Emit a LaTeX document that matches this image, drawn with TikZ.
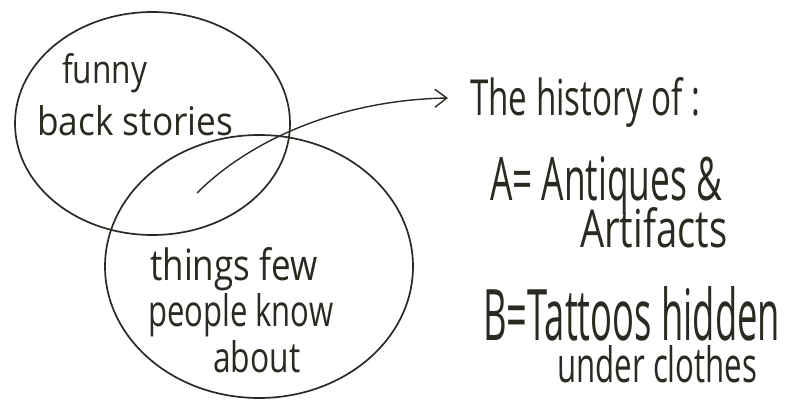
\documentclass[tikz,border=0pt]{standalone}
\usepackage{fontspec}
\setmainfont{Open Sans}
\usetikzlibrary{shapes.geometric,arrows.meta}
\definecolor{ink}{HTML}{2B2A22}
\newcommand\fitw[3]{\resizebox{#1pt}{#2pt}{#3}}
\begin{document}
\begin{tikzpicture}[x=1pt,y=-1pt,
  set/.style={draw=ink,line width=1.7pt,ellipse,inner sep=0pt},
  hand/.style={anchor=base west,inner sep=0pt,text=ink},
  conn/.style={draw=ink,line width=1.4pt,-{Straight Barb[length=12pt,width=18pt,line width=1.4pt]}}]
\useasboundingbox[fill=white] (0,0) rectangle (789,404);
\node[set,minimum width=275pt,minimum height=223pt] (top) at (152.5,123.5) {};
\node[set,minimum width=308pt,minimum height=263pt] (bottom) at (259,266.5) {};
% left labels
\node[hand] (funny) at (62,83) {\fitw{85}{30}{funny}};
\node[hand] (back) at (37,135) {\fitw{196}{30}{back stories}};
\node[hand] (things) at (150,280) {\fitw{167}{33}{things few}};
\node[hand] (people) at (148,326) {\fitw{185}{33}{people know}};
\node[hand] (about) at (213,372) {\fitw{87}{32}{about}};
% right labels
\node[hand] (history) at (470,115) {\fitw{230}{38}{The history of :}};
\node[hand] (A) at (490,200) {\fitw{232}{44}{A= Antiques \&}};
\node[hand] (Art) at (580,247) {\fitw{147}{40}{Artifacts}};
\node[hand] (B) at (483,340) {\fitw{297}{54}{B=Tattoos hidden}};
\node[hand] (under) at (557,382) {\fitw{200}{37}{under clothes}};
% arrow
\coordinate (start) at (197,193);
\coordinate (tip) at (448,98);
\draw[conn] (start) .. controls (250,140) and (340,100) .. (tip);
\end{tikzpicture}
\end{document}
